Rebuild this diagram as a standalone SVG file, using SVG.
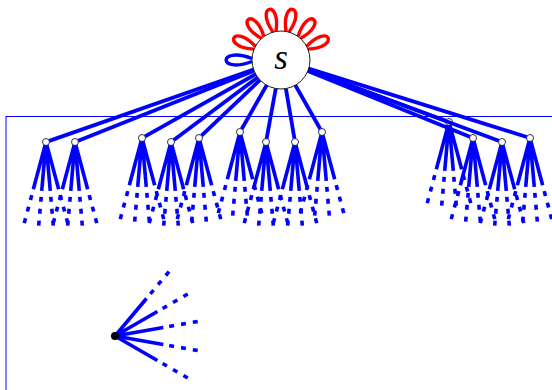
<svg xmlns="http://www.w3.org/2000/svg" xmlns:xlink="http://www.w3.org/1999/xlink" width="552" height="390" viewBox="0 0 552 390">
  <style>
    .frame { fill: none; stroke: #0000ff; stroke-width: 1; }
    .edge { fill: none; stroke: #0000ff; stroke-width: 3.8; }
    .half { fill: none; stroke: #0000ff; stroke-width: 3.6; }
    .dash { fill: none; stroke: #0000ff; stroke-width: 3.6; stroke-dasharray: 5 7; stroke-dashoffset: 6; }
    .loop-r { fill: none; stroke: #ff0000; stroke-width: 3.4; }
    .loop-b { fill: none; stroke: #0000ff; stroke-width: 3.4; }
    .vtx { fill: #ffffff; stroke: #000000; stroke-width: 0.8; }
    .root { fill: #ffffff; stroke: #000000; stroke-width: 0.9; }
    .lbl { font-family: "Liberation Serif", "DejaVu Serif", serif; font-style: italic; font-size: 35px; fill: #000000; }
  </style>
  <defs>
    <!-- four pendant half-edges hanging below a vertex -->
    <g id="fan">
      <path class="half" d="M0 0L-12.68 47.33M0 0L-4.27 48.81M0 0L4.27 48.81M0 0L12.68 47.33"/>
      <path class="dash" d="M-12.68 47.33L-21.74 81.14M-4.27 48.81L-7.32 83.68M4.27 48.81L7.32 83.68M12.68 47.33L21.74 81.14"/>
    </g>
    <!-- teardrop loop pointing along +x from a circle of radius 29 -->
    <path id="loop" d="M28.96 -1.52C59.56 -13.88 59.56 13.88 28.96 1.52"/>
    <path id="loopLong" d="M28.96 -1.52C63.5 -14.5 63.5 14.5 28.96 1.52"/>
  </defs>

  <rect class="frame" x="6" y="116.5" width="560" height="290"/>

  <g id="connectors">
    <g id="pendants">
      <use xlink:href="#fan" x="46" y="142"/>
      <use xlink:href="#fan" x="75" y="142"/>
      <use xlink:href="#fan" x="142" y="138"/>
      <use xlink:href="#fan" x="171" y="142"/>
      <use xlink:href="#fan" x="199" y="138"/>
      <use xlink:href="#fan" x="240" y="132"/>
      <use xlink:href="#fan" x="266" y="142"/>
      <use xlink:href="#fan" x="295" y="142"/>
      <use xlink:href="#fan" x="322" y="132"/>
      <use xlink:href="#fan" x="449" y="122"/>
      <use xlink:href="#fan" x="473" y="138"/>
      <use xlink:href="#fan" x="502" y="142"/>
      <use xlink:href="#fan" x="530" y="138"/>
      <!-- five half-edges of the isolated vertex -->
      <g transform="translate(115 336)">
        <path class="half" d="M0 0L31.5 -37.53M0 0L42.43 -24.5M0 0L48.26 -8.51M0 0L48.26 8.51M0 0L42.43 24.5"/>
        <path class="dash" d="M31.5 -37.53L54 -64.35M42.43 -24.5L72.75 -42M48.26 -8.51L82.72 -14.59M48.26 8.51L82.72 14.59M42.43 24.5L72.75 42"/>
      </g>
    </g>
    <g id="loops">
      <use xlink:href="#loop" class="loop-r" transform="translate(281 60) rotate(-155)"/>
      <use xlink:href="#loop" class="loop-r" transform="translate(281 60) rotate(-129)"/>
      <use xlink:href="#loop" class="loop-r" transform="translate(281 60) rotate(-103)"/>
      <use xlink:href="#loop" class="loop-r" transform="translate(281 60) rotate(-77)"/>
      <use xlink:href="#loop" class="loop-r" transform="translate(281 60) rotate(-51)"/>
      <use xlink:href="#loop" class="loop-r" transform="translate(281 60) rotate(-25)"/>
      <use xlink:href="#loopLong" class="loop-b" transform="translate(281 60) rotate(180)"/>
    </g>
  </g>

  <g id="n1"><circle class="vtx" cx="46" cy="142" r="3.5"/></g>
  <g id="n2"><circle class="vtx" cx="75" cy="142" r="3.5"/></g>
  <g id="n3"><circle class="vtx" cx="142" cy="138" r="3.5"/></g>
  <g id="n4"><circle class="vtx" cx="171" cy="142" r="3.5"/></g>
  <g id="n5"><circle class="vtx" cx="199" cy="138" r="3.5"/></g>
  <g id="n6"><circle class="vtx" cx="240" cy="132" r="3.5"/></g>
  <g id="n7"><circle class="vtx" cx="266" cy="142" r="3.5"/></g>
  <g id="n8"><circle class="vtx" cx="295" cy="142" r="3.5"/></g>
  <g id="n9"><circle class="vtx" cx="322" cy="132" r="3.5"/></g>
  <g id="n10"><circle class="vtx" cx="449" cy="122" r="3.5"/></g>
  <g id="n11"><circle class="vtx" cx="473" cy="138" r="3.5"/></g>
  <g id="n12"><circle class="vtx" cx="502" cy="142" r="3.5"/></g>
  <g id="n13"><circle class="vtx" cx="530" cy="138" r="3.5"/></g>
  <g id="v"><circle cx="115" cy="336" r="4" fill="#000000"/></g>

  <g id="edges">
    <path class="edge" d="M253.62 69.55L49.3 140.85"/>
    <path class="edge" d="M254.06 70.73L78.25 140.71"/>
    <path class="edge" d="M255.71 74.19L145.05 136.29"/>
    <path class="edge" d="M257.75 77.33L173.81 139.91"/>
    <path class="edge" d="M259.99 79.98L201.54 135.59"/>
    <path class="edge" d="M266.65 85.2L241.73 128.96"/>
    <path class="edge" d="M275.78 88.53L266.63 138.56"/>
    <path class="edge" d="M285.88 88.59L294.41 138.55"/>
    <path class="edge" d="M295.35 85.2L320.27 128.96"/>
    <path class="edge" d="M308.2 70.04L445.72 120.79"/>
    <path class="edge" d="M307.87 70.92L469.76 136.68"/>
    <path class="edge" d="M308.19 70.09L498.72 140.78"/>
    <path class="edge" d="M308.68 68.67L526.66 136.95"/>
  </g>

  <g id="s">
    <circle class="root" cx="281" cy="60" r="29"/>
    <text class="lbl" x="281" y="68.5" text-anchor="middle">s</text>
  </g>
</svg>
